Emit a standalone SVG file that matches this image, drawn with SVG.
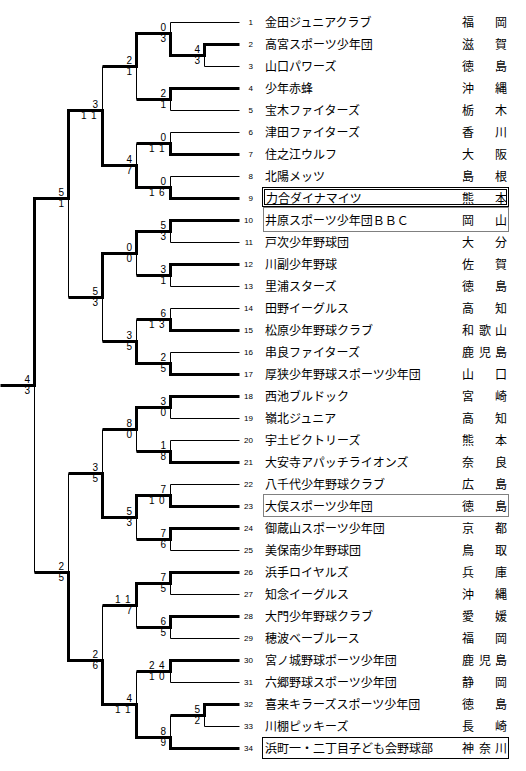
<svg xmlns="http://www.w3.org/2000/svg" width="526" height="771" viewBox="0 0 526 771">
<style>
.bg{fill:#fff}
.thin{fill:none;stroke:#000;stroke-width:1}
.thick{fill:none;stroke:#000;stroke-width:3;stroke-linejoin:miter}
.sc{font-family:"Liberation Sans",Arial,sans-serif;font-size:10px;fill:#000;text-anchor:end}
.sc2{font-family:"Liberation Sans",Arial,sans-serif;font-size:10px;fill:#000}
.num{font-family:"Liberation Sans",Arial,sans-serif;font-size:8px;fill:#000;text-anchor:end}
.nm{font-family:"Noto Sans CJK JP","Noto Sans CJK SC",sans-serif;font-size:12px;fill:#000}
.pf{font-family:"Noto Sans CJK JP","Noto Sans CJK SC",sans-serif;font-size:12px;fill:#000}
.box{fill:none;stroke:#000;stroke-width:1}
.dot{fill:none;stroke:#000;stroke-width:1;stroke-dasharray:1 1}
</style>
<rect class="bg" x="0" y="0" width="526" height="771"/>

<g id="connectors" transform="translate(0.5,0.5)">
  <path class="thin" d="M239 22 H170 V33"/>
  <path class="thin" d="M239 66 H204 V55"/>
  <path class="thin" d="M239 110 H170 V99"/>
  <path class="thin" d="M239 132 H170 V143"/>
  <path class="thin" d="M239 176 H170 V187"/>
  <path class="thin" d="M239 242 H170 V231"/>
  <path class="thin" d="M239 286 H170 V275"/>
  <path class="thin" d="M239 308 H170 V319"/>
  <path class="thin" d="M239 352 H170 V363"/>
  <path class="thin" d="M239 418 H170 V407"/>
  <path class="thin" d="M239 440 H170 V451"/>
  <path class="thin" d="M239 484 H170 V495"/>
  <path class="thin" d="M239 550 H170 V539"/>
  <path class="thin" d="M239 594 H170 V583"/>
  <path class="thin" d="M239 638 H170 V627"/>
  <path class="thin" d="M239 682 H170 V671"/>
  <path class="thin" d="M239 726 H204 V715"/>
  <path class="thin" d="M136 99 V66"/>
  <path class="thin" d="M136 143 V165"/>
  <path class="thin" d="M136 275 V253"/>
  <path class="thin" d="M136 319 V341"/>
  <path class="thin" d="M102 66 V110"/>
  <path class="thin" d="M102 341 V297"/>
  <path class="thin" d="M68 297 V198"/>
  <path class="thin" d="M136 451 V429"/>
  <path class="thin" d="M136 539 V517"/>
  <path class="thin" d="M136 627 V605"/>
  <path class="thin" d="M136 671 V704"/>
  <path class="thin" d="M170 715 V737"/>
  <path class="thin" d="M102 429 V473"/>
  <path class="thin" d="M102 605 V660"/>
  <path class="thin" d="M68 473 V572"/>
  <path class="thin" d="M34 572 V385"/>
  <path class="thick" d="M239 44 H204 V55 H170 V33 H136 V66 H102"/>
  <path class="thick" d="M239 88 H170 V99 H136"/>
  <path class="thick" d="M239 154 H170 V143 H136"/>
  <path class="thick" d="M239 198 H170 V187 H136 V165 H102 V110 H68 V198 H34 V385 H0"/>
  <path class="thick" d="M239 220 H170 V231 H136 V253 H102 V297 H68"/>
  <path class="thick" d="M239 264 H170 V275 H136"/>
  <path class="thick" d="M239 330 H170 V319 H136"/>
  <path class="thick" d="M239 374 H170 V363 H136 V341 H102"/>
  <path class="thick" d="M239 396 H170 V407 H136 V429 H102"/>
  <path class="thick" d="M239 462 H170 V451 H136"/>
  <path class="thick" d="M239 506 H170 V495 H136 V517 H102 V473 H68"/>
  <path class="thick" d="M239 528 H170 V539 H136"/>
  <path class="thick" d="M239 572 H170 V583 H136 V605 H102"/>
  <path class="thick" d="M239 616 H170 V627 H136"/>
  <path class="thick" d="M239 660 H170 V671 H136"/>
  <path class="thick" d="M239 704 H204 V715 H170"/>
  <path class="thick" d="M239 748 H170 V737 H136 V704 H102 V660 H68 V572 H34"/>
</g>

<g id="scores">
  <g id="m-p1"><text class="sc" x="200" y="53">4</text><text class="sc" x="200" y="64">3</text></g>
  <g id="m-1"><text class="sc" x="166" y="31">0</text><text class="sc" x="166" y="42">3</text></g>
  <g id="m-2"><text class="sc" x="166" y="97">2</text><text class="sc" x="166" y="108">1</text></g>
  <g id="m-3"><text class="sc" x="166" y="141">0</text><text class="sc2" x="149 159" y="152">11</text></g>
  <g id="m-4"><text class="sc" x="166" y="185">0</text><text class="sc2" x="149 159" y="196">16</text></g>
  <g id="m-5"><text class="sc" x="166" y="229">5</text><text class="sc" x="166" y="240">3</text></g>
  <g id="m-6"><text class="sc" x="166" y="273">3</text><text class="sc" x="166" y="284">1</text></g>
  <g id="m-7"><text class="sc" x="166" y="317">6</text><text class="sc2" x="149 159" y="328">13</text></g>
  <g id="m-8"><text class="sc" x="166" y="361">2</text><text class="sc" x="166" y="372">5</text></g>
  <g id="m-9"><text class="sc" x="166" y="405">3</text><text class="sc" x="166" y="416">0</text></g>
  <g id="m-10"><text class="sc" x="166" y="449">1</text><text class="sc" x="166" y="460">8</text></g>
  <g id="m-11"><text class="sc" x="166" y="493">7</text><text class="sc2" x="149 159" y="504">10</text></g>
  <g id="m-12"><text class="sc" x="166" y="537">7</text><text class="sc" x="166" y="548">6</text></g>
  <g id="m-13"><text class="sc" x="166" y="581">7</text><text class="sc" x="166" y="592">5</text></g>
  <g id="m-14"><text class="sc" x="166" y="625">6</text><text class="sc" x="166" y="636">5</text></g>
  <g id="m-15"><text class="sc2" x="149 159" y="669">24</text><text class="sc2" x="149 159" y="680">10</text></g>
  <g id="m-p2"><text class="sc" x="200" y="713">5</text><text class="sc" x="200" y="724">2</text></g>
  <g id="m-16"><text class="sc" x="166" y="735">8</text><text class="sc" x="166" y="746">9</text></g>
  <g id="r2-1"><text class="sc" x="132" y="64">2</text><text class="sc" x="132" y="75">1</text></g>
  <g id="r2-2"><text class="sc" x="132" y="163">4</text><text class="sc" x="132" y="174">7</text></g>
  <g id="r2-3"><text class="sc" x="132" y="251">0</text><text class="sc" x="132" y="262">0</text></g>
  <g id="r2-4"><text class="sc" x="132" y="339">3</text><text class="sc" x="132" y="350">5</text></g>
  <g id="r2-5"><text class="sc" x="132" y="427">8</text><text class="sc" x="132" y="438">0</text></g>
  <g id="r2-6"><text class="sc" x="132" y="515">5</text><text class="sc" x="132" y="526">3</text></g>
  <g id="r2-7"><text class="sc2" x="115 125" y="603">11</text><text class="sc" x="132" y="614">7</text></g>
  <g id="r2-8"><text class="sc" x="132" y="702">4</text><text class="sc2" x="115 125" y="713">11</text></g>
  <g id="r3-1"><text class="sc" x="98" y="108">3</text><text class="sc2" x="81 91" y="119">11</text></g>
  <g id="r3-2"><text class="sc" x="98" y="295">5</text><text class="sc" x="98" y="306">3</text></g>
  <g id="r3-3"><text class="sc" x="98" y="471">3</text><text class="sc" x="98" y="482">5</text></g>
  <g id="r3-4"><text class="sc" x="98" y="658">2</text><text class="sc" x="98" y="669">6</text></g>
  <g id="r4-1"><text class="sc" x="64" y="196">5</text><text class="sc" x="64" y="207">1</text></g>
  <g id="r4-2"><text class="sc" x="64" y="570">2</text><text class="sc" x="64" y="581">5</text></g>
  <g id="final"><text class="sc" x="30" y="383">4</text><text class="sc" x="30" y="394">3</text></g>
</g>

<g id="team-1"><text class="num" x="253" y="25">1</text><text class="nm" x="265" y="27">金田ジュニアクラブ</text><text class="pf" x="462 495" y="27">福岡</text></g>
<g id="team-2"><text class="num" x="253" y="47">2</text><text class="nm" x="265" y="49">高宮スポーツ少年団</text><text class="pf" x="462 495" y="49">滋賀</text></g>
<g id="team-3"><text class="num" x="253" y="69">3</text><text class="nm" x="265" y="71">山口パワーズ</text><text class="pf" x="462 495" y="71">徳島</text></g>
<g id="team-4"><text class="num" x="253" y="91">4</text><text class="nm" x="265" y="93">少年赤蜂</text><text class="pf" x="462 495" y="93">沖縄</text></g>
<g id="team-5"><text class="num" x="253" y="113">5</text><text class="nm" x="265" y="115">宝木ファイターズ</text><text class="pf" x="462 495" y="115">栃木</text></g>
<g id="team-6"><text class="num" x="253" y="135">6</text><text class="nm" x="265" y="137">津田ファイターズ</text><text class="pf" x="462 495" y="137">香川</text></g>
<g id="team-7"><text class="num" x="253" y="157">7</text><text class="nm" x="265" y="159">住之江ウルフ</text><text class="pf" x="462 495" y="159">大阪</text></g>
<g id="team-8"><text class="num" x="253" y="179">8</text><text class="nm" x="265" y="181">北陽メッツ</text><text class="pf" x="462 495" y="181">島根</text></g>
<g id="team-9"><rect class="box" x="262.5" y="187.5" width="246" height="19"/><rect class="box" x="264.5" y="189.5" width="242" height="15"/><text class="num" x="253" y="201">9</text><text class="nm" x="266" y="203">力合ダイナマイツ</text><text class="pf" x="462 495" y="203">熊本</text></g>
<g id="team-10"><rect class="dot" x="263.5" y="207.5" width="245" height="24"/><text class="num" x="253" y="223">10</text><text class="nm" x="265" y="225">井原スポーツ少年団ＢＢＣ</text><text class="pf" x="462 495" y="225">岡山</text></g>
<g id="team-11"><text class="num" x="253" y="245">11</text><text class="nm" x="265" y="247">戸次少年野球団</text><text class="pf" x="462 495" y="247">大分</text></g>
<g id="team-12"><text class="num" x="253" y="267">12</text><text class="nm" x="265" y="269">川副少年野球</text><text class="pf" x="462 495" y="269">佐賀</text></g>
<g id="team-13"><text class="num" x="253" y="289">13</text><text class="nm" x="265" y="291">里浦スターズ</text><text class="pf" x="462 495" y="291">徳島</text></g>
<g id="team-14"><text class="num" x="253" y="311">14</text><text class="nm" x="265" y="313">田野イーグルス</text><text class="pf" x="462 495" y="313">高知</text></g>
<g id="team-15"><text class="num" x="253" y="333">15</text><text class="nm" x="265" y="335">松原少年野球クラブ</text><text class="pf" x="462 479 495" y="335">和歌山</text></g>
<g id="team-16"><text class="num" x="253" y="355">16</text><text class="nm" x="265" y="357">串良ファイターズ</text><text class="pf" x="462 479 495" y="357">鹿児島</text></g>
<g id="team-17"><text class="num" x="253" y="377">17</text><text class="nm" x="265" y="379">厚狭少年野球スポーツ少年団</text><text class="pf" x="462 495" y="379">山口</text></g>
<g id="team-18"><text class="num" x="253" y="399">18</text><text class="nm" x="265" y="401">西池ブルドック</text><text class="pf" x="462 495" y="401">宮崎</text></g>
<g id="team-19"><text class="num" x="253" y="421">19</text><text class="nm" x="265" y="423">嶺北ジュニア</text><text class="pf" x="462 495" y="423">高知</text></g>
<g id="team-20"><text class="num" x="253" y="443">20</text><text class="nm" x="265" y="445">宇土ビクトリーズ</text><text class="pf" x="462 495" y="445">熊本</text></g>
<g id="team-21"><text class="num" x="253" y="465">21</text><text class="nm" x="265" y="467">大安寺アパッチライオンズ</text><text class="pf" x="462 495" y="467">奈良</text></g>
<g id="team-22"><text class="num" x="253" y="487">22</text><text class="nm" x="265" y="489">八千代少年野球クラブ</text><text class="pf" x="462 495" y="489">広島</text></g>
<g id="team-23"><rect class="dot" x="263.5" y="494.5" width="245" height="22"/><text class="num" x="253" y="509">23</text><text class="nm" x="265" y="511">大俣スポーツ少年団</text><text class="pf" x="462 495" y="511">徳島</text></g>
<g id="team-24"><text class="num" x="253" y="531">24</text><text class="nm" x="265" y="533">御蔵山スポーツ少年団</text><text class="pf" x="462 495" y="533">京都</text></g>
<g id="team-25"><text class="num" x="253" y="553">25</text><text class="nm" x="265" y="555">美保南少年野球団</text><text class="pf" x="462 495" y="555">鳥取</text></g>
<g id="team-26"><text class="num" x="253" y="575">26</text><text class="nm" x="265" y="577">浜手ロイヤルズ</text><text class="pf" x="462 495" y="577">兵庫</text></g>
<g id="team-27"><text class="num" x="253" y="597">27</text><text class="nm" x="265" y="599">知念イーグルス</text><text class="pf" x="462 495" y="599">沖縄</text></g>
<g id="team-28"><text class="num" x="253" y="619">28</text><text class="nm" x="265" y="621">大門少年野球クラブ</text><text class="pf" x="462 495" y="621">愛媛</text></g>
<g id="team-29"><text class="num" x="253" y="641">29</text><text class="nm" x="265" y="643">穂波ベーブルース</text><text class="pf" x="462 495" y="643">福岡</text></g>
<g id="team-30"><text class="num" x="253" y="663">30</text><text class="nm" x="265" y="665">宮ノ城野球ポーツ少年団</text><text class="pf" x="462 479 495" y="665">鹿児島</text></g>
<g id="team-31"><text class="num" x="253" y="685">31</text><text class="nm" x="265" y="687">六郷野球スポーツ少年団</text><text class="pf" x="462 495" y="687">静岡</text></g>
<g id="team-32"><text class="num" x="253" y="707">32</text><text class="nm" x="265" y="709">喜来キラーズスポーツ少年団</text><text class="pf" x="462 495" y="709">徳島</text></g>
<g id="team-33"><text class="num" x="253" y="729">33</text><text class="nm" x="265" y="731">川棚ピッキーズ</text><text class="pf" x="462 495" y="731">長崎</text></g>
<g id="team-34"><rect class="box" x="262.5" y="737.5" width="246" height="21"/><text class="num" x="253" y="751">34</text><text class="nm" x="265" y="753">浜町一・二丁目子ども会野球部</text><text class="pf" x="462 479 495" y="753">神奈川</text></g>
</svg>
